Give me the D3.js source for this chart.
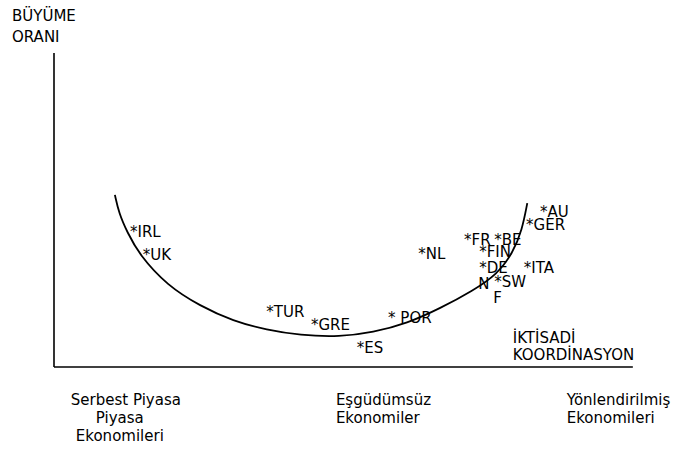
<!DOCTYPE html>
<html><head><meta charset="utf-8">
<script src="https://cdn.jsdelivr.net/npm/d3@7"></script>
<style>
html,body{margin:0;padding:0;background:#fff;}
text{font-family:"DejaVu Sans",Verdana,sans-serif;font-size:15px;fill:#000;}
</style></head>
<body>
<svg id="chart" width="673" height="457"></svg>
<script>
// Curve: economic coordination (x, 0-100) vs growth rate (y, 0-100)
const curveX = [10.5, 11.2, 12.6, 14.8, 19.5, 25.2, 30.9, 36.7, 42.4, 49.3, 55.0, 60.9, 66.6, 72.2, 76.4, 79.1, 80.7, 81.6];
const curveY = [54.8, 49.0, 43.0, 35.5, 26.0, 19.4, 14.6, 11.8, 10.1, 9.6, 11.0, 13.9, 18.7, 24.3, 29.5, 36.3, 43.6, 52.2];

// Countries (label text, coordination, growth)
const countries = ["*IRL", "*UK", "*TUR", "*GRE", "*ES", "* POR", "*NL", "*FR", "*BE", "*FIN", "*DE\nN", "*SW\nF", "*ITA", "*AU", "*GER"];
const countryX  = [13.1, 15.3, 36.6, 44.3, 52.2, 57.6, 62.8, 70.7, 75.9, 73.3, 73.3, 75.9, 81.0, 83.8, 81.4];
const countryY  = [41.4, 34.1, 15.9, 11.8, 4.5, 14.0, 34.4, 38.9, 38.9, 35.0, 29.9, 25.5, 29.9, 47.8, 43.6];

// Category labels along the x axis
const categoryLabels = [["Serbest Piyasa", "Piyasa", "Ekonomileri"], ["Eşgüdümsüz", "Ekonomiler"], ["Yönlendirilmiş", "Ekonomileri"]];
const categoryPos = [2.9, 48.6, 88.4];
const categoryIndent = [[0, 25, 5], [0, 0], [0, 0]];

const yAxisTitle = ["BÜYÜME", "ORANI"];
const xAxisTitle = ["İKTİSADİ", "KOORDİNASYON"];

const svg = d3.select("#chart");
const x = d3.scaleLinear().domain([0, 100]).range([54, 634]);
const y = d3.scaleLinear().domain([0, 100]).range([367, 53]);

// axes (plain lines)
svg.append("line").attr("x1", x(0)).attr("x2", x(0)).attr("y1", y(100)).attr("y2", y(0))
  .attr("stroke", "#000").attr("stroke-width", 1.6);
svg.append("line").attr("x1", x(0)).attr("x2", x(99.8)).attr("y1", y(0)).attr("y2", y(0))
  .attr("stroke", "#000").attr("stroke-width", 1.6);

// curve
const pts = curveX.map((v, i) => [v, curveY[i]]);
svg.append("path").datum(pts)
  .attr("d", d3.line().x(d => x(d[0])).y(d => y(d[1])).curve(d3.curveBasis))
  .attr("fill", "none").attr("stroke", "#000").attr("stroke-width", 1.8);

// country labels
countries.forEach((c, i) => {
  const t = svg.append("text").attr("x", x(countryX[i])).attr("y", y(countryY[i]));
  c.split("\n").forEach((line, j) => {
    t.append("tspan").attr("x", x(countryX[i]) - (j ? 1 : 0)).attr("dy", j ? 16 : 0).text(line);
  });
});

// y axis title
const yt = svg.append("text").attr("x", 12).attr("y", 21);
yAxisTitle.forEach((l, j) => yt.append("tspan").attr("x", 12).attr("dy", j ? 21 : 0).text(l));

// x axis title
const xt = svg.append("text").attr("x", x(79.1)).attr("y", y(7.6));
xAxisTitle.forEach((l, j) => xt.append("tspan").attr("x", x(79.1)).attr("dy", j ? 17 : 0).text(l));

// category labels
categoryLabels.forEach((lines, i) => {
  const t = svg.append("text").attr("y", 405);
  lines.forEach((l, j) => t.append("tspan").attr("x", x(categoryPos[i]) + categoryIndent[i][j]).attr("dy", j ? 18 : 0).text(l));
});
</script>
</body></html>
